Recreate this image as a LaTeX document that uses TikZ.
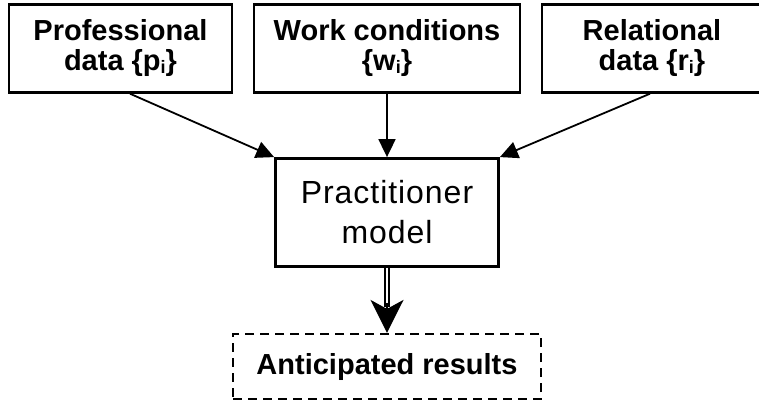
\documentclass[tikz,border=0pt]{standalone}
\usepackage{fontspec}
\setmainfont{Liberation Sans}
\usetikzlibrary{arrows.meta}
\newcommand{\mysub}[1]{\raisebox{-2.5pt}{\fontsize{18}{18}\selectfont #1}}
\tikzset{
  srcbox/.style={draw, line width=2.4pt, inner sep=0pt, align=center,
    font=\fontsize{29}{30}\selectfont\bfseries, minimum height=88pt},
  modelbox/.style={draw, line width=2.8pt, inner sep=0pt, align=center,
    font=\fontsize{32}{40}\selectfont\addfontfeature{LetterSpace=3}, minimum width=223pt, minimum height=108pt},
  resbox/.style={draw, line width=2.2pt, dash pattern=on 9pt off 6pt, inner sep=0pt,
    font=\fontsize{29}{30}\selectfont\bfseries, minimum width=308pt, minimum height=65pt},
  feed/.style={line width=1.8pt, -{Triangle[length=18pt,width=17pt]}},
  dbl/.style={double, double distance=1.6pt, line width=1.8pt},
  bighead/.style={-{Stealth[length=33pt,width=33pt,inset=9pt]}, line width=1.6pt}
}
\begin{document}
\begin{tikzpicture}[x=1pt,y=-1pt]
\useasboundingbox (0,0) rectangle (759,404);
\node[srcbox, minimum width=223pt] (pd) at (120.5,48.5) {Professional\\data \{p\mysub{i}\}};
\node[srcbox, minimum width=266pt] (wc) at (387,48.5) {Work conditions\\\{w\mysub{i}\}};
\node[srcbox, minimum width=220pt] (rd) at (652,48.5) {Relational\\data \{r\mysub{i}\}};
\node[modelbox] (pm) at (387,212.5) {Practitioner\\model};
\node[resbox] (ar) at (387,366.5) {Anticipated results};
\coordinate (pdout) at (130,92.5);
\coordinate (rdout) at (650,92.5);
\draw[feed] (pd.south -| pdout) -- (pm.north west);
\draw[feed] (wc.south) -- (pm.north);
\draw[feed] (rd.south -| rdout) -- (pm.north east);
\draw[dbl] (pm.south) -- ([yshift=26pt]ar.north);
\draw[bighead] ([yshift=30pt]ar.north) -- (ar.north);
\end{tikzpicture}
\end{document}
